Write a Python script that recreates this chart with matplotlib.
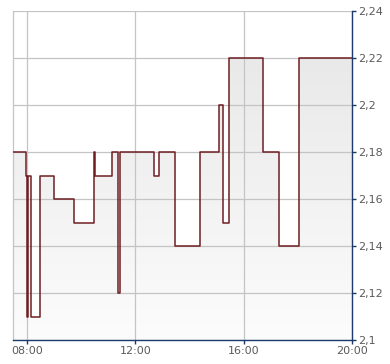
import numpy as np
import matplotlib
matplotlib.use('Agg')
import matplotlib.pyplot as plt
from matplotlib.colors import LinearSegmentedColormap

# step data: time (hours) where each price level starts
times = [7.5, 7.958, 7.995, 8.043, 8.165, 8.475, 9.014, 9.753, 10.49, 10.50,
         11.156, 11.378, 11.451, 12.67, 12.89, 13.48, 14.37, 15.07, 15.22,
         15.44, 16.695, 17.285, 18.03, 20.0]
prices = [2.18, 2.17, 2.11, 2.17, 2.11, 2.17, 2.16, 2.15, 2.18, 2.17,
          2.18, 2.12, 2.18, 2.17, 2.18, 2.14, 2.18, 2.20, 2.15,
          2.22, 2.18, 2.14, 2.22, 2.22]
xticks = [8, 12, 16, 20]
xlabels = ['08:00', '12:00', '16:00', '20:00']
yticks = [2.1, 2.12, 2.14, 2.16, 2.18, 2.2, 2.22, 2.24]
ylabels = ['2,1', '2,12', '2,14', '2,16', '2,18', '2,2', '2,22', '2,24']

navy = '#1c3a6b'
W, H = 390, 364
fig = plt.figure(figsize=(W / 100, H / 100), dpi=100)
ax = fig.add_axes([13.3 / W, (H - 340.3) / H, (352.3 - 13.3) / W, (340.3 - 11.3) / H])

ax.set_xlim(7.5, 20)
ax.set_ylim(2.1, 2.24)

# gradient fill under the step line
poly = ax.fill_between(times, prices, 2.1, step='post', color='none', lw=0)
cmap = LinearSegmentedColormap.from_list('g', ['#fcfcfc', '#e6e6e6'])
grad = np.linspace(0, 1, 256).reshape(-1, 1)
im = ax.imshow(grad, extent=[7.5, 20, 2.1, 2.24], origin='lower', aspect='auto',
               cmap=cmap, zorder=0.5)
path = poly.get_paths()[0]
im.set_clip_path(path, transform=ax.transData)

ax.step(times, prices, where='post', color='#6e1e22', lw=1.1, zorder=3)

ax.set_xticks(xticks)
ax.set_xticklabels(xlabels)
ax.set_yticks(yticks)
ax.set_yticklabels(ylabels)
ax.yaxis.tick_right()
ax.grid(True, color='#c4c4c4', lw=0.9, zorder=1)
ax.set_axisbelow(True)

ax.spines['top'].set_visible(False)
ax.spines['left'].set_color('#c4c4c4')
ax.spines['left'].set_linewidth(0.9)
ax.spines['right'].set_color(navy)
ax.spines['bottom'].set_color(navy)
ax.spines['right'].set_linewidth(1.0)
ax.spines['bottom'].set_linewidth(1.0)

ax.tick_params(axis='both', direction='out', length=3, width=1, color=navy,
               labelsize=8, labelcolor='#5a5a5a', pad=1)
ax.tick_params(axis='y', left=False, right=True)

fig.savefig('out.png', dpi=100)
